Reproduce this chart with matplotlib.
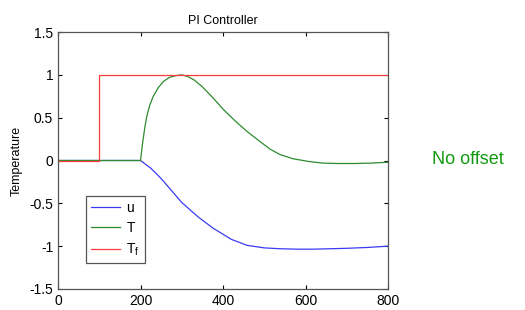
import numpy as np
import matplotlib.pyplot as plt

plt.rcParams['font.family'] = ['Liberation Sans', 'DejaVu Sans']

# tempo (s) e sinais
t_tf = [0, 100, 100, 800]
tf = [0, 0, 1, 1]

t_T = [0, 200, 205, 210, 215, 222, 231, 243, 255, 270, 285, 300, 315, 330, 350,
       376, 400, 430, 458, 490, 515, 538, 570, 606, 640, 680, 720, 760, 800]
T = [0, 0, 0.2, 0.37, 0.51, 0.64, 0.75, 0.85, 0.92, 0.97, 0.99, 1.0, 0.98, 0.94, 0.86,
     0.73, 0.6, 0.46, 0.34, 0.22, 0.13, 0.07, 0.02, -0.01, -0.03, -0.035, -0.035, -0.03, -0.02]

t_u = [0, 200, 225, 250, 275, 300, 340, 376, 420, 458, 500, 538, 580, 620, 660, 700, 750, 800]
u = [0, 0, -0.09, -0.21, -0.35, -0.49, -0.66, -0.79, -0.92, -0.99, -1.02, -1.03, -1.035,
     -1.035, -1.03, -1.025, -1.015, -1.0]

fig = plt.figure(figsize=(5.25, 3.1), dpi=100)
ax = fig.add_axes([58 / 525, 1 - 289 / 310, 330 / 525, 257 / 310])

ax.plot(t_u, u, color='#3b3bf5', lw=0.9, label='u')
ax.plot(t_T, T, color='#2e8b2e', lw=0.9, label='T')
ax.plot(t_tf, tf, color='#ff3d3d', lw=0.9, label='T$_\\mathregular{f}$')

ax.set_xlim(0, 800)
ax.set_ylim(-1.5, 1.5)
ax.set_xticks([0, 200, 400, 600, 800])
ax.set_yticks([-1.5, -1, -0.5, 0, 0.5, 1, 1.5])
ax.set_yticklabels(['-1.5', '-1', '-0.5', '0', '0.5', '1', '1.5'])
ax.tick_params(direction='in', top=True, right=True, labelsize=10, length=3, width=0.8)
for s in ax.spines.values():
    s.set_color('#555555')
    s.set_linewidth(0.9)

ax.set_title('PI Controller', fontsize=9, pad=6)
ax.set_ylabel('Temperature', fontsize=9, labelpad=5)

leg = ax.legend(loc='upper left', bbox_to_anchor=(28 / 330, 93 / 257), fontsize=10,
                fancybox=False, framealpha=1, edgecolor='#555555', handlelength=2.1,
                borderpad=0.35, labelspacing=0.45, handletextpad=0.45, borderaxespad=0)
leg.get_frame().set_linewidth(0.9)

fig.text(468 / 525, 1 - 160 / 310, 'No offset', color='#119a11', fontsize=13,
         ha='center', va='center')

fig.savefig('out.png', dpi=100)
